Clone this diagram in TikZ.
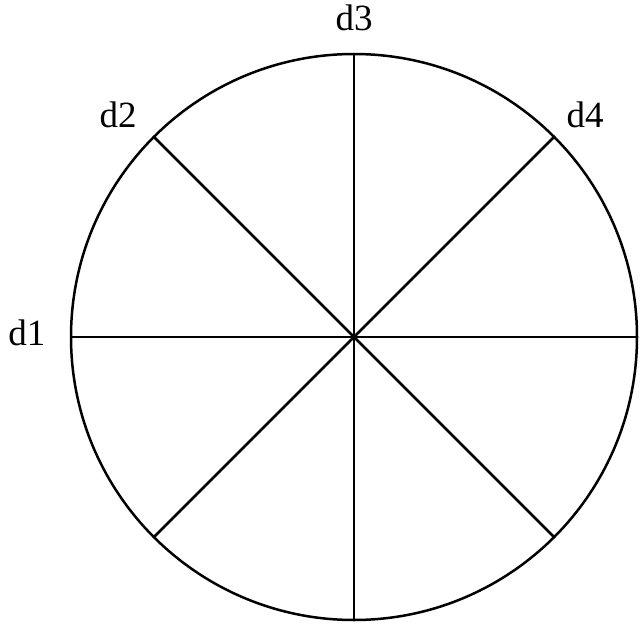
\documentclass[tikz,border=0pt]{standalone}
\usepackage{fontspec}
\setmainfont{Liberation Serif}
\begin{document}
\begin{tikzpicture}[x=1pt,y=-1pt,
  ln/.style={line width=2.5pt,black},
  lab/.style={font=\fontsize{37}{37}\selectfont,inner sep=0pt}]
\useasboundingbox (0,0) rectangle (643,626);
\coordinate (c) at (354,337);
\node[draw,ln,circle,minimum size=566pt,inner sep=0pt] (circ) at (c) {};
\foreach \a in {0,45,90,135} {
  \draw[ln] (circ.\a) -- (circ.\a+180);
}
\node[lab] (d1) at (27,333) {d1};
\node[lab] (d2) at (118,115) {d2};
\node[lab] (d3) at (354,18) {d3};
\node[lab] (d4) at (585,115) {d4};
\end{tikzpicture}
\end{document}
